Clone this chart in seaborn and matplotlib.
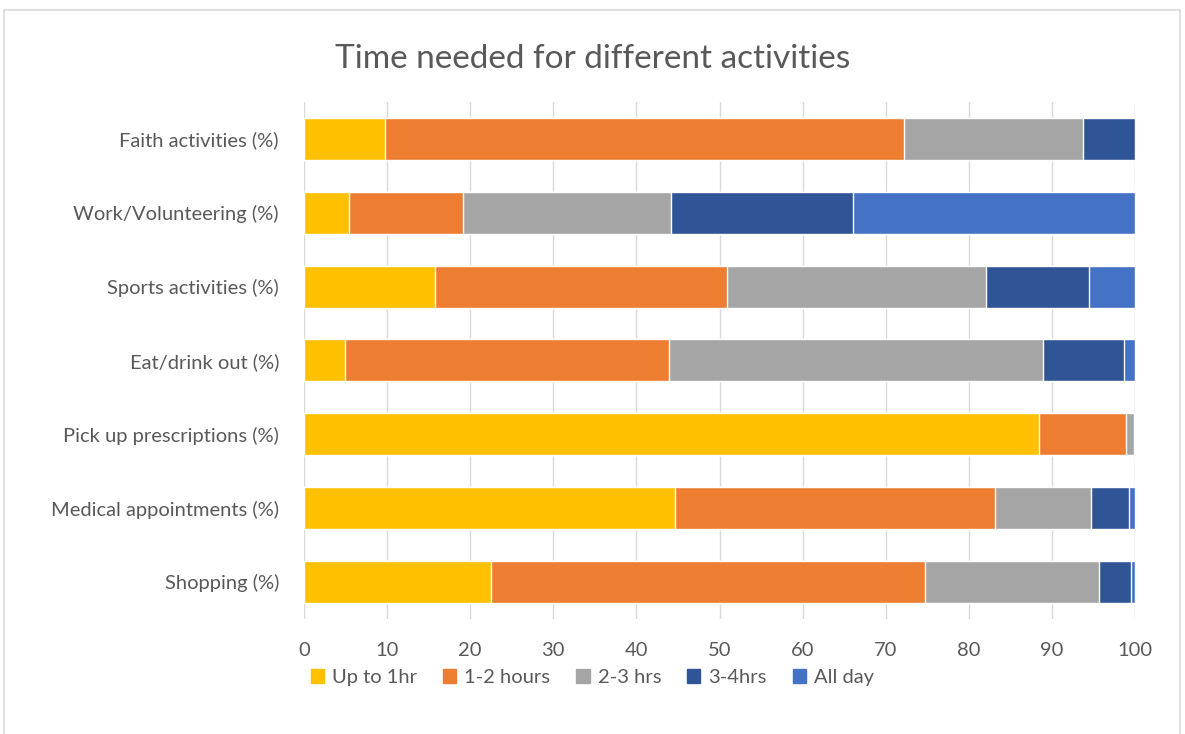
import pandas as pd
import matplotlib.pyplot as plt
import seaborn as sns
from matplotlib.patches import Rectangle, Patch

# Data (percent of respondents)
activities = ['Faith activities (%)', 'Work/Volunteering (%)', 'Sports activities (%)',
              'Eat/drink out (%)', 'Pick up prescriptions (%)', 'Medical appointments (%)',
              'Shopping (%)']
durations = ['Up to 1hr', '1-2 hours', '2-3 hrs', '3-4hrs', 'All day']
up_to_1hr = [9.7, 5.4, 15.8, 4.9, 88.4, 44.6, 22.5]
hours_1_2 = [62.5, 13.7, 35.1, 39.0, 10.5, 38.5, 52.2]
hrs_2_3 = [21.5, 25.0, 31.2, 45.0, 0.9, 11.6, 20.9]
hrs_3_4 = [6.3, 21.9, 12.3, 9.8, 0.2, 4.5, 3.9]
all_day = [0.0, 34.0, 5.6, 1.3, 0.0, 0.8, 0.5]
colors = ['#ffc000', '#ed7d31', '#a5a5a5', '#2f5597', '#4472c4']

df = pd.DataFrame({'Activity': activities, 'Up to 1hr': up_to_1hr, '1-2 hours': hours_1_2,
                   '2-3 hrs': hrs_2_3, '3-4hrs': hrs_3_4, 'All day': all_day})
cum = df[durations].cumsum(axis=1)

sns.set_style('white')
plt.rcParams['font.family'] = ['Lato', 'DejaVu Sans']
text_col = '#595959'

fig = plt.figure(figsize=(11.85, 7.34), dpi=100)
ax = fig.add_axes([0.2565, 0.157, 0.7015, 0.704])

# stacked bars: draw cumulative totals from the outermost segment inwards
for name, col in reversed(list(zip(durations, colors))):
    sns.barplot(x=cum[name], y=df['Activity'], color=col, width=0.57,
                saturation=1, ax=ax, order=activities)

ax.set_xlim(0, 100)
ax.set_xticks(range(0, 101, 10))
ax.grid(axis='x', color='#d9d9d9', linewidth=1)
ax.set_axisbelow(True)
for s in ax.spines.values():
    s.set_visible(False)
ax.set_xlabel('')
ax.set_ylabel('')
ax.tick_params(axis='both', length=0, labelsize=14.5, colors=text_col)
ax.tick_params(axis='y', pad=18)
ax.tick_params(axis='x', pad=17)

fig.suptitle('Time needed for different activities', x=0.5, y=0.94,
             fontsize=24, color=text_col)

handles = [Patch(color=c, label=d) for d, c in zip(durations, colors)]
fig.legend(handles=handles, loc='center', bbox_to_anchor=(0.5, 0.077), ncol=5,
           frameon=False, fontsize=14.5, labelcolor=text_col, handlelength=0.65,
           handleheight=0.65, handletextpad=0.4, columnspacing=1.3)

fig.patches.append(Rectangle((0.003, -0.01), 0.993, 0.997, transform=fig.transFigure,
                             fill=False, edgecolor='#d9d9d9', linewidth=1.2))

fig.savefig('out.png', dpi=100)
